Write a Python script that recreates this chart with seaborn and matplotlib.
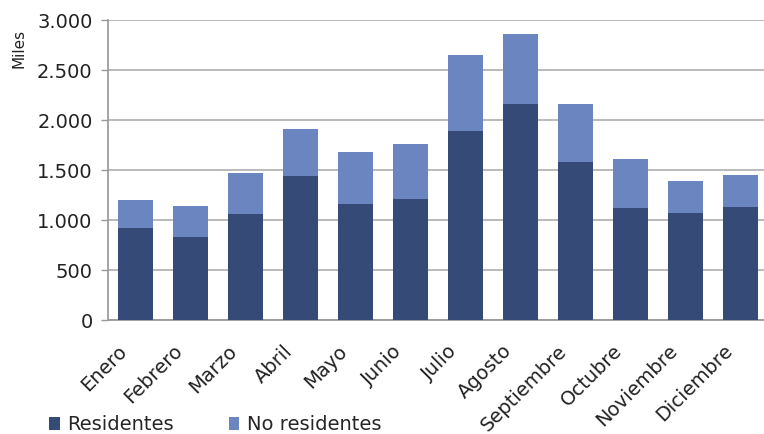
import pandas as pd
import numpy as np
import matplotlib.pyplot as plt
import matplotlib.transforms as mtransforms
import seaborn as sns

# Datos (miles de viajeros)
meses = ["Enero", "Febrero", "Marzo", "Abril", "Mayo", "Junio", "Julio",
         "Agosto", "Septiembre", "Octubre", "Noviembre", "Diciembre"]
residentes = [923, 833, 1063, 1443, 1163, 1213, 1893, 2163, 1583, 1123, 1073, 1133]
no_residentes = [280, 310, 410, 470, 520, 550, 760, 700, 580, 490, 320, 320]
yticks = [0, 500, 1000, 1500, 2000, 2500, 3000]
ytick_labels = ["0", "500", "1.000", "1.500", "2.000", "2.500", "3.000"]

c_res = "#354A77"
c_nores = "#6A85BF"

sns.set_theme(style="white")
plt.rcParams['font.family'] = ['DejaVu Sans']

df = pd.DataFrame({"mes": meses, "Residentes": residentes, "No residentes": no_residentes})
df["total"] = df["Residentes"] + df["No residentes"]

fig = plt.figure(figsize=(7.64, 4.34), dpi=100)
ax = fig.add_axes([108 / 764, 1 - 320 / 434, 660 / 764, 300 / 434])

sns.barplot(data=df, x="mes", y="total", color=c_nores, width=0.65,
            saturation=1, linewidth=0, ax=ax, zorder=3, label="No residentes")
sns.barplot(data=df, x="mes", y="Residentes", color=c_res, width=0.65,
            saturation=1, linewidth=0, ax=ax, zorder=4, label="Residentes")

ax.set_xlim(-0.5, 11.5)
ax.set_ylim(0, 3000)
ax.set_yticks(yticks)
ax.set_yticklabels(ytick_labels, fontsize=14, color="#222222")
ax.yaxis.grid(True, color="#B4B4B4", linewidth=1.3, zorder=0)
ax.set_axisbelow(True)
ax.tick_params(axis="y", length=5, width=1, color="#999999", left=True, pad=6)
ax.tick_params(axis="x", length=0, pad=6)
ax.set_xticks(range(len(meses)))
ax.set_xticklabels(meses, rotation=45, ha="right", rotation_mode="anchor",
                   fontsize=14, color="#222222")
# desplazar etiquetas abajo a la izquierda
offset = mtransforms.ScaledTranslation(-18 / 100, -13 / 100, fig.dpi_scale_trans)
for lbl in ax.get_xticklabels():
    lbl.set_transform(lbl.get_transform() + offset)
ax.set_xlabel("")
ax.set_ylabel("")
for s in ["top", "right"]:
    ax.spines[s].set_visible(False)
ax.spines["left"].set_color("#999999")
ax.spines["bottom"].set_color("#999999")
ax.spines["bottom"].set_linewidth(1.3)

fig.text(19 / 764, 1 - 48 / 434, "Miles", rotation=90, fontsize=11,
         ha="center", va="center", color="#222222")

handles, labels = ax.get_legend_handles_labels()
order = [labels.index("Residentes"), labels.index("No residentes")]
ax.legend([handles[i] for i in order], [labels[i] for i in order],
          loc="center left", bbox_to_anchor=(49 / 764, 1 - 425 / 434),
          bbox_transform=fig.transFigure, ncol=2, frameon=False, fontsize=14,
          handlelength=0.55, handleheight=0.6, handletextpad=0.4,
          columnspacing=2.8, borderaxespad=0, borderpad=0)

fig.savefig("out.png", dpi=100)
